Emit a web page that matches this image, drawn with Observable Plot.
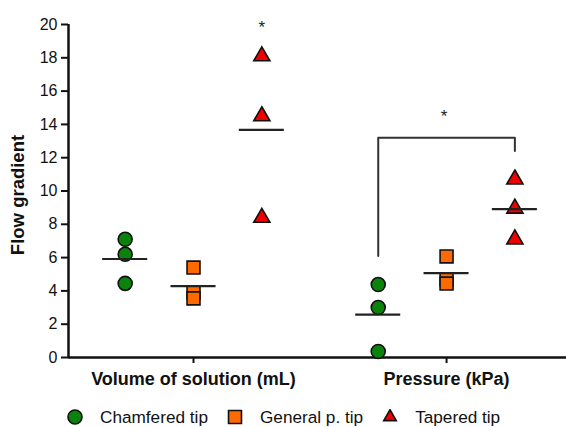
<!DOCTYPE html>
<html>
<head>
<meta charset="utf-8">
<script src="https://cdn.jsdelivr.net/npm/d3@7"></script>
<script src="https://cdn.jsdelivr.net/npm/@observablehq/plot@0.6"></script>
<style>
  html, body { margin: 0; padding: 0; background: #fff; overflow: hidden; }
  #wrap { width: 566px; font-family: "Liberation Sans", Arial, sans-serif; }
  #wrap > svg { display: block; }
  .legend { display: flex; align-items: center; height: 20px; line-height: 20px; padding-left: 67px; font-size: 17.2px; color: #111; margin-top: 2px; }
  .legend svg { margin-right: 17px; display: block; }
  .legend span { margin-right: 19px; }
</style>
</head>
<body>
<div id="wrap"></div>
<script>
const groups = ["Volume of solution (mL)", "Pressure (kPa)"];
const tips = ["Chamfered tip", "General p. tip", "Tapered tip"];
const chamfered = [[7.1, 6.2, 4.45], [4.38, 3.0, 0.36]];
const generalTip = [[5.4, 3.9, 3.55], [6.07, 4.68, 4.44]];
const tapered = [[18.1, 14.5, 8.4], [10.7, 8.95, 7.1]];
const yTicks = [0, 2, 4, 6, 8, 10, 12, 14, 16, 18, 20];
const bracketY = [6.1, 13.2, 12.4];   // pressure: chamfered vs tapered
const starY = [19.8, 14.5];           // asterisk heights
const colors = ["#0b820b", "#ff6a00", "#f00000"];
const symbols = ["circle", "square", "triangle"];
const radii = [7, 7.3, 6];

const series = [chamfered, generalTip, tapered];
const offset = 0.27;
const xPos = (g, t) => g + (t - 1) * offset;

const rows = [];
series.forEach((s, t) => s.forEach((vals, g) => vals.forEach(v => rows.push({g, t, x: xPos(g, t), y: v}))));
const means = [];
series.forEach((s, t) => s.forEach((vals, g) => means.push({g, t, x: xPos(g, t), y: d3.mean(vals)})));

const bracket = [
  {x: xPos(1, 0), y: bracketY[0]},
  {x: xPos(1, 0), y: bracketY[1]},
  {x: xPos(1, 2), y: bracketY[1]},
  {x: xPos(1, 2), y: bracketY[2]}
];
const stars = [
  {x: xPos(0, 2), y: starY[0]},
  {x: xPos(1, 1) - 0.01, y: starY[1]}
];

const xMin = -0.494, xMax = 1.474;

const chart = Plot.plot({
  width: 566,
  height: 405,
  marginTop: 24,
  marginBottom: 48,
  marginLeft: 68,
  marginRight: 0,
  style: {fontFamily: "'Liberation Sans', Arial, sans-serif", background: "white", color: "#111"},
  x: {domain: [xMin, xMax], axis: null},
  y: {domain: [0, 20], axis: null},
  marks: [
    Plot.axisY({ticks: yTicks, tickSize: 7, tickPadding: 4, fontSize: 16, strokeWidth: 2, label: null}),
    Plot.axisX({ticks: [0, 1], tickFormat: i => groups[i], tickSize: 6, tickPadding: 9, fontSize: 18, fontWeight: "bold", strokeWidth: 2, label: null}),
    Plot.ruleX([xMin], {y1: 0, y2: 20, strokeWidth: 2.5}),
    Plot.ruleY([0], {strokeWidth: 2.5}),
    Plot.text(["Flow gradient"], {frameAnchor: "left", textAnchor: "middle", rotate: -90, dx: -50, dy: 4, fontSize: 18.5, fontWeight: "bold"}),
    Plot.line(bracket, {x: "x", y: "y", stroke: "#333", strokeWidth: 2}),
    ...[0, 1, 2].map(t => Plot.dot(rows.filter(d => d.t === t), {
      x: "x", y: "y", symbol: symbols[t], r: radii[t], fill: colors[t], stroke: "#111", strokeWidth: 1.6
    })),
    Plot.ruleY(means, {x1: d => d.x - 0.089, x2: d => d.x + 0.089, y: "y", stroke: "#222", strokeWidth: 2.2}),
    Plot.text(stars, {x: "x", y: "y", text: () => "*", fontSize: 17, fill: "#222"})
  ]
});

const wrap = document.getElementById("wrap");
wrap.appendChild(chart);

const legend = document.createElement("div");
legend.className = "legend";
tips.forEach((name, t) => {
  const sym = d3.create("svg").attr("width", 16).attr("height", 16);
  sym.append("path")
    .attr("transform", "translate(8,8)")
    .attr("d", d3.symbol(t === 0 ? d3.symbolCircle : t === 1 ? d3.symbolSquare : d3.symbolTriangle2, Math.PI * radii[t] * radii[t])())
    .attr("fill", colors[t]).attr("stroke", "#111").attr("stroke-width", 1.6);
  legend.appendChild(sym.node());
  const s = document.createElement("span");
  s.textContent = name;
  legend.appendChild(s);
});
wrap.appendChild(legend);
</script>
</body>
</html>
